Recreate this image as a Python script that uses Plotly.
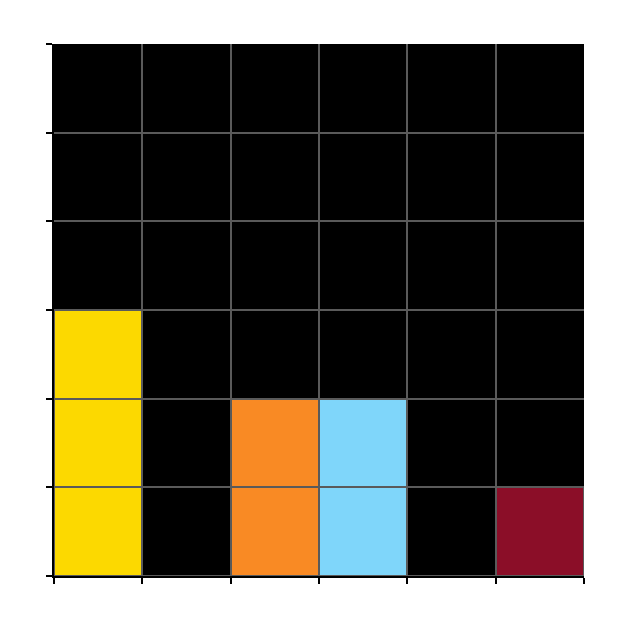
import plotly.graph_objects as go

# bin edges 0..6, one bar per bin, counts per bin
bin_centers = [0.5, 1.5, 2.5, 3.5, 4.5, 5.5]
counts = [3, 0, 2, 2, 0, 1]
bar_colors = ["#FCD900", "#000000", "#F98A24", "#7FD6FA", "#000000", "#8B0E28"]
y_ticks = [0, 1, 2, 3, 4, 5, 6]
x_ticks = [0, 1, 2, 3, 4, 5, 6]

GRID = "#5A5A5A"

fig = go.Figure()
# stack unit blocks so each cell gets its own grey outline (grid shows over the bars)
for level in range(max(counts)):
    ys = [1 if c > level else 0 for c in counts]
    fig.add_trace(go.Bar(x=bin_centers, y=ys, width=1,
                         marker=dict(color=bar_colors, line=dict(color=GRID, width=2)),
                         showlegend=False, hoverinfo="skip"))

fig.update_layout(
    barmode="stack", bargap=0,
    width=629, height=629,
    margin=dict(l=46, r=53, t=36, b=61),
    plot_bgcolor="black", paper_bgcolor="white",
    showlegend=False)
fig.update_xaxes(range=[0, 6], tickvals=x_ticks, showticklabels=False,
                 ticks="outside", ticklen=6, tickwidth=2, tickcolor="black",
                 showline=True, linecolor="black", linewidth=2,
                 showgrid=True, gridcolor=GRID, gridwidth=2, zeroline=False)
fig.update_yaxes(range=[0, 6], tickvals=y_ticks, showticklabels=False,
                 ticks="outside", ticklen=6, tickwidth=2, tickcolor="black",
                 showline=True, linecolor="black", linewidth=2,
                 showgrid=True, gridcolor=GRID, gridwidth=2, zeroline=False)

fig.write_html("out.html")
